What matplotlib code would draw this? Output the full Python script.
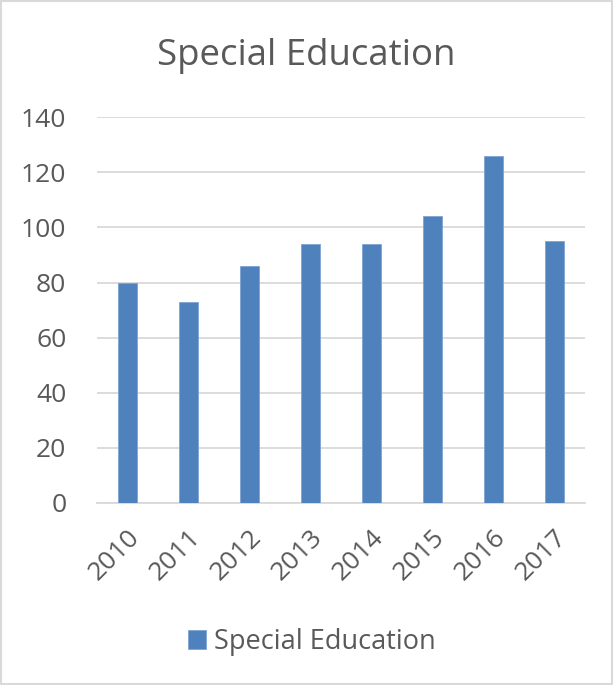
import matplotlib
matplotlib.use("Agg")
import matplotlib.pyplot as plt
from matplotlib.patches import Rectangle

years = ["2010", "2011", "2012", "2013", "2014", "2015", "2016", "2017"]
values = [80, 73, 86, 94, 94, 104, 126, 95]
yticks = [0, 20, 40, 60, 80, 100, 120, 140]
title = "Special Education"
series_name = "Special Education"

bar_color = "#4F81BD"
text_color = "#595959"
grid_color = "#D9D9D9"

plt.rcParams["font.family"] = ["Open Sans", "DejaVu Sans"]

fig = plt.figure(figsize=(6.13, 6.85), dpi=100)
fig.patch.set_facecolor("white")
fig.add_artist(Rectangle((0.0015, 0.0015), 0.997, 0.997, transform=fig.transFigure,
                         fill=False, edgecolor=grid_color, linewidth=1.5))

ax = fig.add_axes([0.158, 0.2657, 0.796, 0.5633])
x = range(len(years))
ax.bar(x, values, width=0.31, color=bar_color, edgecolor="#7FA3D3", linewidth=0.6,
       label=series_name, zorder=3)
ax.set_xlim(-0.5, len(years) - 0.5)
ax.set_ylim(0, 140)
ax.set_yticks(yticks)
ax.set_yticklabels([str(v) for v in yticks])
ax.set_xticks(list(x))
ax.set_xticklabels(years, rotation=45, ha="right", rotation_mode="anchor")
ax.grid(axis="y", color=grid_color, linewidth=1.3, zorder=0)
for s in ["top", "right", "left"]:
    ax.spines[s].set_visible(False)
ax.spines["bottom"].set_color(grid_color)
ax.spines["bottom"].set_linewidth(1.3)
ax.tick_params(axis="both", length=0, labelsize=19, colors=text_color)
ax.tick_params(axis="y", pad=22)
ax.tick_params(axis="x", pad=16)

fig.text(0.5, 0.918, title, ha="center", va="center", fontsize=26.4, color=text_color)

leg = fig.legend(loc="center", bbox_to_anchor=(0.509, 0.0628), frameon=False,
                 fontsize=19.5, handlelength=0.67, handleheight=0.67, handletextpad=0.3)
for t in leg.get_texts():
    t.set_color(text_color)

fig.savefig("out.png", dpi=100)
